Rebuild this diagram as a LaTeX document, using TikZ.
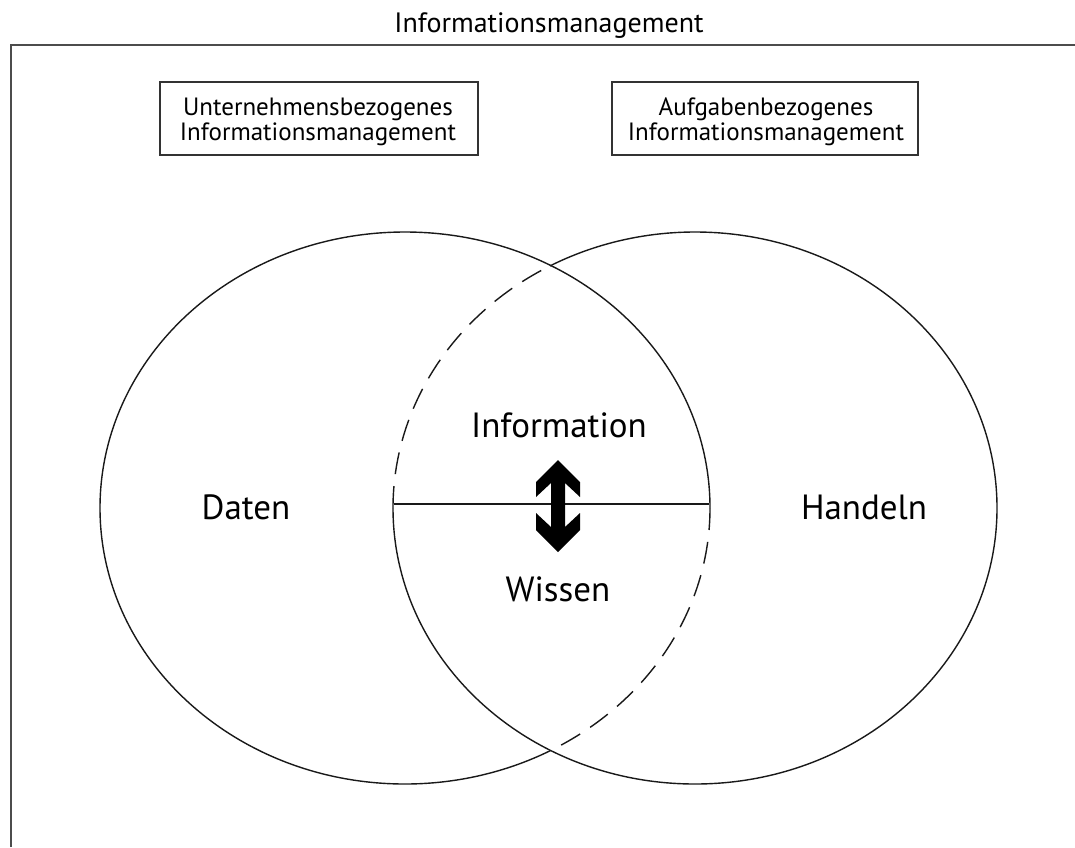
\documentclass[tikz,border=0pt]{standalone}
\usepackage{fontspec}
\setmainfont{PT Sans}
\begin{document}
\begin{tikzpicture}[x=1pt,y=1pt,
  frame/.style={draw=black!70,line width=2pt},
  box/.style={draw=black!80,line width=1.6pt},
  ring/.style={draw=black!90,line width=1.4pt},
  dashring/.style={ring,dash pattern=on 22pt off 12pt},
  small/.style={font=\fontsize{25}{25}\selectfont,align=center,anchor=base},
  big/.style={font=\fontsize{35}{38}\selectfont}]
\useasboundingbox (0,0) rectangle (1075,-847);
% frame
\draw[frame] (11,-847) -- (11,-45) -- (1075,-45);
\node[font=\fontsize{28}{30}\selectfont,anchor=base] (title) at (549,-32) {Informationsmanagement};
% boxes
\draw[box] (160,-82) rectangle (478,-155);
\draw[box] (612,-82) rectangle (918,-155);
\node[small] (ub) at (318,-140) {Unternehmensbezogenes\\Informationsmanagement};
\node[small] (ab) at (766,-140) {Aufgabenbezogenes\\Informationsmanagement};
% ellipses
\draw[ring] (405,-508) ++(0:305 and 276) arc[start angle=0,end angle=298.4,x radius=305,y radius=276];
\draw[dashring] (405,-508) ++(0:305 and 276) arc[start angle=0,end angle=-61.6,x radius=305,y radius=276];
\draw[ring] (695,-508) ++(180:302 and 276) arc[start angle=180,end angle=478.7,x radius=302,y radius=276];
\draw[dashring] (695,-508) ++(180:302 and 276) arc[start angle=180,end angle=118.7,x radius=302,y radius=276];
% divider
\coordinate (dl) at (394,-504);
\coordinate (dr) at (709,-504);
\draw[ring] (dl) -- (dr);
% double arrow
\fill[black] (558,-460) -- (580,-482) -- (580,-497) -- (565,-483) -- (565,-527) -- (580,-513) -- (580,-530) -- (558,-552) -- (536,-530) -- (536,-513) -- (551,-527) -- (551,-483) -- (536,-497) -- (536,-482) -- cycle;
% labels
\node[big,anchor=base] (info) at (559,-437) {Information};
\node[big] (wissen) at (558,-589) {Wissen};
\node[big] (daten) at (246,-507) {Daten};
\node[big] (handeln) at (864,-507) {Handeln};
\end{tikzpicture}
\end{document}
